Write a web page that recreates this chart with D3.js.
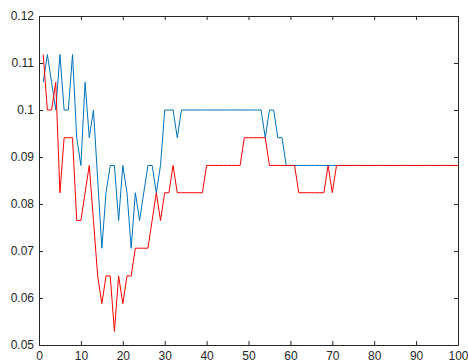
<!DOCTYPE html>
<html>
<head>
<meta charset="utf-8">
<script src="https://cdn.jsdelivr.net/npm/d3@7"></script>
<style>
  body { margin: 0; background: #fff; }
  svg { display: block; font-family: 'Liberation Sans', Arial, sans-serif; }
</style>
</head>
<body>
<svg class="canvas" width="468" height="364"></svg>
<script>
// data
const xs = d3.range(1, 101);
const blueValues = [
  0.1059, 0.1118, 0.1059, 0.1000, 0.1118, 0.1000, 0.1000, 0.1118, 0.0941, 0.0882,
  0.1059, 0.0941, 0.1000, 0.0853, 0.0706, 0.0824, 0.0882, 0.0882, 0.0765, 0.0882,
  0.0824, 0.0706, 0.0824, 0.0765, 0.0824, 0.0882, 0.0882, 0.0824, 0.0882, 0.1000,
  0.1000, 0.1000, 0.0941, 0.1000, 0.1000, 0.1000, 0.1000, 0.1000, 0.1000, 0.1000,
  0.1000, 0.1000, 0.1000, 0.1000, 0.1000, 0.1000, 0.1000, 0.1000, 0.1000, 0.1000,
  0.1000, 0.1000, 0.1000, 0.0941, 0.1000, 0.1000, 0.0941, 0.0941, 0.0882, 0.0882,
  0.0882, 0.0882, 0.0882, 0.0882, 0.0882, 0.0882, 0.0882, 0.0882, 0.0882, 0.0882,
  0.0882, 0.0882, 0.0882, 0.0882, 0.0882, 0.0882, 0.0882, 0.0882, 0.0882, 0.0882,
  0.0882, 0.0882, 0.0882, 0.0882, 0.0882, 0.0882, 0.0882, 0.0882, 0.0882, 0.0882,
  0.0882, 0.0882, 0.0882, 0.0882, 0.0882, 0.0882, 0.0882, 0.0882, 0.0882, 0.0882
];
const redValues = [
  0.1118, 0.1000, 0.1000, 0.1059, 0.0824, 0.0941, 0.0941, 0.0941, 0.0765, 0.0765,
  0.0824, 0.0882, 0.0765, 0.0647, 0.0588, 0.0647, 0.0647, 0.0529, 0.0647, 0.0588,
  0.0647, 0.0647, 0.0706, 0.0706, 0.0706, 0.0706, 0.0765, 0.0824, 0.0765, 0.0824,
  0.0824, 0.0882, 0.0824, 0.0824, 0.0824, 0.0824, 0.0824, 0.0824, 0.0824, 0.0882,
  0.0882, 0.0882, 0.0882, 0.0882, 0.0882, 0.0882, 0.0882, 0.0882, 0.0941, 0.0941,
  0.0941, 0.0941, 0.0941, 0.0941, 0.0882, 0.0882, 0.0882, 0.0882, 0.0882, 0.0882,
  0.0882, 0.0824, 0.0824, 0.0824, 0.0824, 0.0824, 0.0824, 0.0824, 0.0882, 0.0824,
  0.0882, 0.0882, 0.0882, 0.0882, 0.0882, 0.0882, 0.0882, 0.0882, 0.0882, 0.0882,
  0.0882, 0.0882, 0.0882, 0.0882, 0.0882, 0.0882, 0.0882, 0.0882, 0.0882, 0.0882,
  0.0882, 0.0882, 0.0882, 0.0882, 0.0882, 0.0882, 0.0882, 0.0882, 0.0882, 0.0882
];
const xTicks = [0, 10, 20, 30, 40, 50, 60, 70, 80, 90, 100];
const yTicks = [0.05, 0.06, 0.07, 0.08, 0.09, 0.1, 0.11, 0.12];

const svg = d3.select('.canvas');
const plotLeft = 39, plotRight = 458, plotTop = 16, plotBottom = 345;
const axisColor = '#262626';

// scales
const xScale = d3.scaleLinear().domain([0, 100]).range([plotLeft, plotRight]);
const yScale = d3.scaleLinear().domain([0.05, 0.12]).range([plotBottom, plotTop]);

// axes, ticks pointing inward on every side (box on)
const styleAxis = (g) => {
  g.selectAll('path, line').attr('stroke', axisColor);
  g.selectAll('text').attr('fill', axisColor).style('font-size', '12px');
};
svg.append('g')
  .attr('transform', `translate(0, ${plotBottom})`)
  .call(d3.axisBottom(xScale).tickValues(xTicks).tickSizeInner(-4).tickSizeOuter(0).tickPadding(6).tickFormat(d3.format('d')))
  .call(styleAxis);
svg.append('g')
  .attr('transform', `translate(${plotLeft}, 0)`)
  .call(d3.axisLeft(yScale).tickValues(yTicks).tickSizeInner(-4).tickSizeOuter(0).tickPadding(5).tickFormat((d) => String(+d.toFixed(2))))
  .call(styleAxis);
svg.append('g')
  .attr('transform', `translate(0, ${plotTop})`)
  .call(d3.axisTop(xScale).tickValues(xTicks).tickSizeInner(-4).tickSizeOuter(0).tickFormat(''))
  .call(styleAxis);
svg.append('g')
  .attr('transform', `translate(${plotRight}, 0)`)
  .call(d3.axisRight(yScale).tickValues(yTicks).tickSizeInner(-4).tickSizeOuter(0).tickFormat(''))
  .call(styleAxis);

// lines
const line = d3.line()
  .x((d, i) => xScale(xs[i]))
  .y((d) => yScale(d));
svg.append('path')
  .datum(blueValues)
  .attr('fill', 'none')
  .attr('stroke', '#0072BD')
  .attr('stroke-width', 1)
  .attr('d', line);
svg.append('path')
  .datum(redValues)
  .attr('fill', 'none')
  .attr('stroke', '#FF0000')
  .attr('stroke-width', 1)
  .attr('d', line);
</script>
</body>
</html>
